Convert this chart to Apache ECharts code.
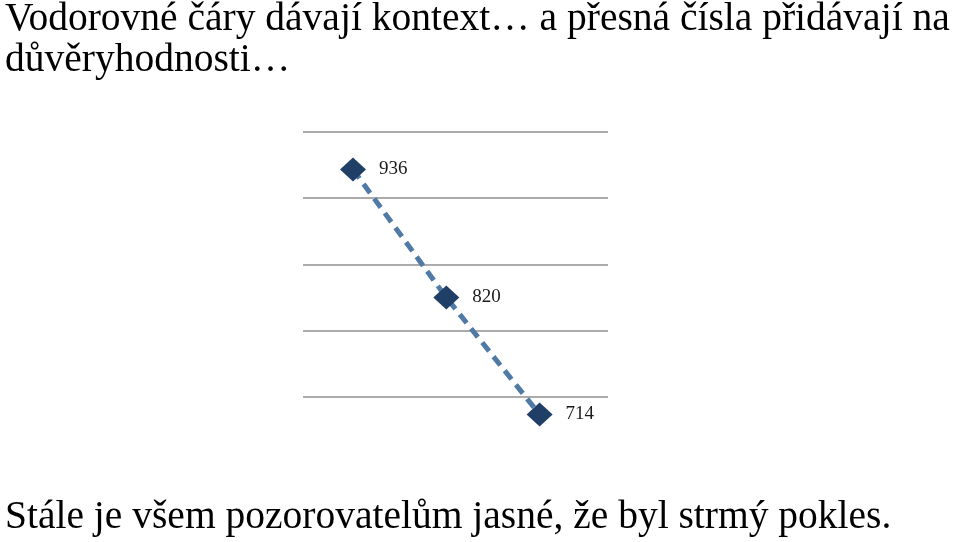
<!DOCTYPE html>
<html>
<head>
<meta charset="utf-8">
<script src="https://cdn.jsdelivr.net/npm/echarts@6/dist/echarts.min.js"></script>
<style>
html, body { margin: 0; padding: 0; background: #fff; }
#chart { width: 960px; height: 542px; }
</style>
</head>
<body>
<div id="chart"></div>
<script>
/* data */
var points = [0, 1, 2];
var values = [936, 820, 714];
var gridValues = [670, 730, 790, 850, 910, 970];

var titleText = 'Vodorovné čáry dávají kontext… a přesná čísla přidávají na\ndůvěryhodnosti…';
var footText = 'Stále je všem pozorovatelům jasné, že byl strmý pokles.';

var initLine = function () {
    var dom = document.getElementById('chart');
    var myChart = echarts.init(dom);
    var seriesData = [];
    values.forEach(function (v, i) {
        seriesData.push([points[i], v]);
    });
    var option = {
        animation: false,
        backgroundColor: '#fff',
        title: [{
            text: titleText,
            left: 5,
            top: -1,
            padding: 0,
            textStyle: {
                fontFamily: 'Liberation Serif',
                fontWeight: 'normal',
                fontSize: 39.5,
                lineHeight: 41,
                color: '#000'
            }
        }, {
            text: footText,
            left: 5,
            top: 498,
            padding: 0,
            textStyle: {
                fontFamily: 'Liberation Serif',
                fontWeight: 'normal',
                fontSize: 39.5,
                lineHeight: 40,
                color: '#000'
            }
        }],
        grid: {
            left: 303,
            right: 352,
            top: 132,
            bottom: 79
        },
        xAxis: {
            type: 'value',
            min: -0.536,
            max: 2.733,
            show: false
        },
        yAxis: {
            type: 'value',
            min: gridValues[0],
            max: gridValues[gridValues.length - 1],
            interval: gridValues[1] - gridValues[0],
            axisLine: { show: false },
            axisTick: { show: false },
            axisLabel: { show: false },
            splitLine: {
                show: true,
                showMinLine: false,
                lineStyle: { color: '#8f8f8f', width: 1.5 }
            }
        },
        series: [{
            type: 'line',
            data: seriesData,
            symbol: 'diamond',
            symbolSize: [26, 24],
            itemStyle: { color: '#1f3f66' },
            lineStyle: {
                color: '#4f7aa6',
                width: 5,
                type: [11, 7]
            },
            label: {
                show: true,
                position: 'right',
                distance: 13,
                fontFamily: 'Liberation Serif',
                fontSize: 19,
                color: '#1a1a1a',
                formatter: function (p) { return p.value[1]; }
            },
            z: 3
        }]
    };
    myChart.setOption(option);
};
initLine();
</script>
</body>
</html>
